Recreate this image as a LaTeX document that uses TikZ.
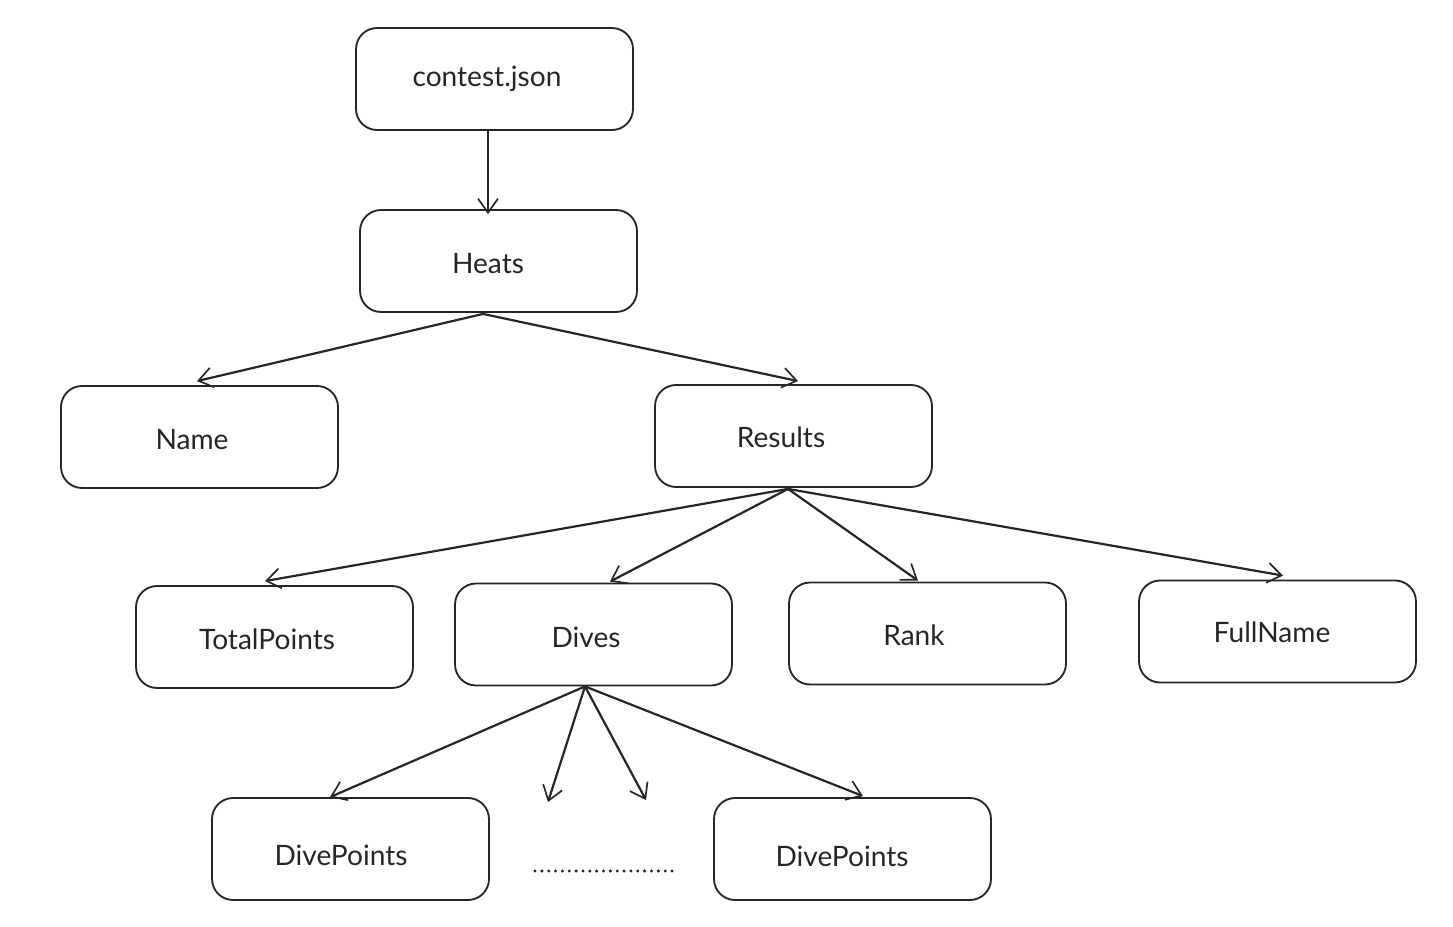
\documentclass[tikz,border=0pt]{standalone}
\usepackage{fontspec}
\setmainfont{Lato}
\usetikzlibrary{arrows.meta,calc}
\begin{document}
\begin{tikzpicture}[x=0.02cm,y=-0.02cm,
  box/.style={draw=black!85, line width=1.05pt, rounded corners=0.42cm,
    minimum width=5.54cm, minimum height=2.04cm, inner sep=0pt},
  tag/.style={inner sep=0pt, font=\fontsize{16}{19}\selectfont, text=black!85},
  link/.style={draw=black!85, line width=1.25pt,
    -{Straight Barb[length=2.8mm,width=4mm,line width=0.95pt]}}]
\useasboundingbox (0,0) rectangle (1453,926);

% boxes, one per JSON field
\node[box] (contest) at (494.5,79) {};
\node[box] (heats) at (498.5,261) {};
\node[box] (name) at (199.5,437) {};
\node[box] (results) at (793.5,436) {};
\node[box] (total) at (274.5,637) {};
\node[box] (dives) at (593.5,634.5) {};
\node[box] (rank) at (927.5,633.5) {};
\node[box] (fullname) at (1277.5,631.5) {};
\node[box] (dp1) at (350.5,849) {};
\node[box] (dp2) at (852.5,849) {};

% field names, set a little left of each box's middle
\node[tag] (contest-t) at (487,79) {contest.json};
\node[tag] (heats-t) at (488,264) {Heats};
\node[tag] (name-t) at (192,440) {Name};
\node[tag] (results-t) at (781,437) {Results};
\node[tag] (total-t) at (267,639) {TotalPoints};
\node[tag] (dives-t) at (586,637) {Dives};
\node[tag] (rank-t) at (914,635) {Rank};
\node[tag] (fullname-t) at (1272,632) {FullName};
\node[tag] (dp1-t) at (341,855) {DivePoints};
\node[tag] (dp2-t) at (842,856) {DivePoints};

% the elided middle entries
\coordinate (dotsL) at (535,871);
\coordinate (dotsR) at (674,871);
\draw[black!85, line width=1.9pt, dash pattern=on 0pt off 3.9pt, line cap=round] (dotsL) -- (dotsR);

% free ends of the two arrows pointing at the elided entries
\coordinate (gapA) at (548,802);
\coordinate (gapB) at (646,800);

% connectors
\draw[link] ($(contest.south)+(-6.5,-2)$) -- ($(heats.north)+(-10.5,5)$);
\coordinate (hs) at ($(heats.south)+(-15.5,1)$);
\draw[link] (hs) -- ($(name.north)+(-2.5,-4)$);
\draw[link] (hs) -- ($(results.north)+(4.5,-3)$);
\coordinate (rs) at ($(results.south)+(-5.5,1)$);
\draw[link] (rs) -- ($(total.north)+(-9.5,-4)$);
\draw[link] (rs) -- ($(dives.north)+(16.5,-1)$);
\draw[link] (rs) -- ($(rank.north)+(-9.5,-1)$);
\draw[link] (rs) -- ($(fullname.north)+(5.5,-4)$);
\coordinate (ds) at ($(dives.south)+(-8.5,0)$);
\draw[link] (ds) -- ($(dp1.north)+(-20.5,0)$);
\draw[link] (ds) -- (gapA);
\draw[link] (ds) -- (gapB);
\draw[link] (ds) -- ($(dp2.north)+(10.5,-1)$);
\end{tikzpicture}
\end{document}
